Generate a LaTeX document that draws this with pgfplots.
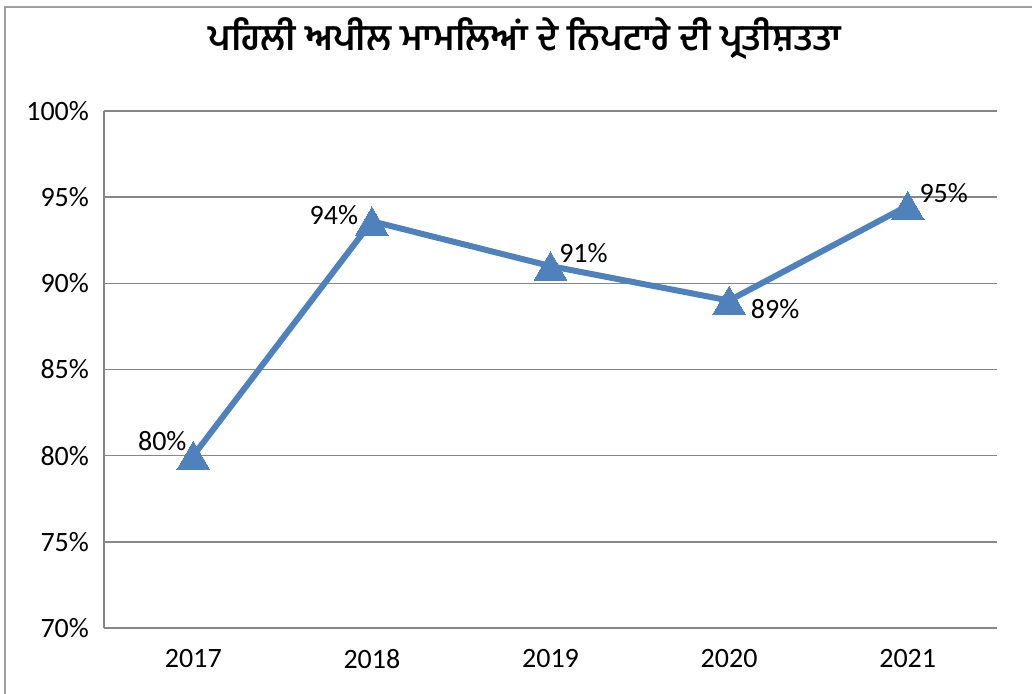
\documentclass[border=0pt]{standalone}
\usepackage{fontspec}
\setmainfont{Carlito}
\newfontfamily\gurfont[Script=Gurmukhi]{Hind Jalandhar}
\usepackage{pgfplots}
\pgfplotsset{compat=1.18}
\definecolor{xlblue}{HTML}{4F81BD}
\definecolor{gridgray}{HTML}{868686}
\begin{document}
\begin{tikzpicture}
\useasboundingbox (0,0) rectangle (516pt,347pt);
\draw[gridgray!80, line width=0.9pt] (520pt,343.5pt) -- (2.5pt,343.5pt) -- (2.5pt,-5pt);
\node[font=\gurfont\bfseries\fontsize{18}{21}\selectfont, anchor=center] at (262.5pt,327.5pt)
  {ਪਹਿਲੀ ਅਪੀਲ ਮਾਮਲਿਆਂ ਦੇ ਨਿਪਟਾਰੇ ਦੀ ਪ੍ਰਤੀਸ਼ਤਤਾ};
\begin{axis}[
  at={(52pt,33pt)}, anchor=south west,
  width=446.5pt, height=258.5pt, scale only axis,
  xmin=-0.5, xmax=4.5, ymin=70, ymax=100,
  xtick={0,1,2,3,4}, xticklabels={2017,2018,2019,2020,2021},
  ytick={70,75,...,100},
  yticklabel={\pgfmathprintnumber{\tick}\%},
  /pgf/number format/assume math mode=true,
  tick style={draw=none},
  ymajorgrids, grid style={gridgray, line width=0.75pt},
  axis x line*=bottom, axis y line*=left,
  axis line style={gridgray, line width=0.75pt, -},
  every tick label/.append style={font=\fontsize{14}{16}\selectfont, text=black},
  yticklabel style={xshift=-4pt},
  xticklabel style={yshift=-7pt},
  clip=false,
]
\addplot[xlblue, line width=3pt, mark=triangle*, mark size=9.5pt,
  mark options={solid, fill=xlblue, line width=0pt, yshift=-2.3pt},
  point meta=explicit symbolic,
  visualization depends on={\thisrow{dx} \as \dx},
  visualization depends on={\thisrow{dy} \as \dy},
  nodes near coords,
  nodes near coords style={anchor=center, xshift=\dx pt, yshift=\dy pt,
    font=\fontsize{14}{16}\selectfont, text=black},
] table[meta=lab] {
x y lab dx dy
0 80.0 80\% -15.5 9.5
1 93.6 94\% -19 5.5
2 91.0 91\% 16.5 9
3 89.0 89\% 23 -2
4 94.5 95\% 18 8.5
};
\end{axis}
\end{tikzpicture}
\end{document}
